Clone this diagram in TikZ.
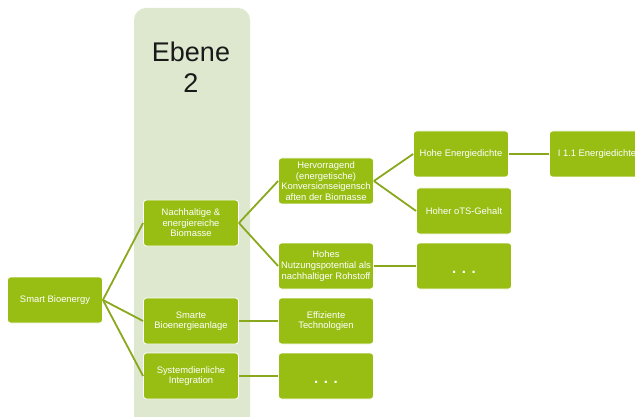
\documentclass[tikz,border=0pt]{standalone}
\usepackage{fontspec}
\setmainfont{Liberation Sans}
\usetikzlibrary{positioning}
\definecolor{boxgreen}{RGB}{152,190,20}
\definecolor{linegreen}{RGB}{138,168,28}
\definecolor{panelgreen}{RGB}{221,232,207}
\tikzstyle{box}=[rectangle,rounded corners=3pt,fill=boxgreen,draw=white,line width=0.8pt,text=white,minimum width=95pt,minimum height=46pt,inner sep=1pt,align=center,font=\fontsize{9.4}{10.6}\selectfont]
\tikzstyle{dots}=[box,font=\fontsize{15}{15}\selectfont\bfseries]
\tikzstyle{link}=[draw=linegreen,line width=1.8pt]

\begin{document}
\begin{tikzpicture}[x=1pt,y=-1pt]
  \useasboundingbox (0,0) rectangle (635,417);
  \clip (0,0) rectangle (635,417);
  % level 2 panel
  \fill[panelgreen,rounded corners=12pt] (134,8) rectangle (250,440);
  \node[inner sep=0pt,anchor=north,align=center,text=black!90,font=\fontsize{27}{31}\selectfont] (ebene) at (191,42) {Ebene\\2};

  \node[box] (sb) at (55,300) {Smart Bioenergy};

  \node[box] (nb) at (191,223) {Nachhaltige \&\\energiereiche\\Biomasse};
  \node[box] (sba) at (191,321) {Smarte\\Bioenergieanlage};
  \node[box] (si) at (191,376) {Systemdienliche\\Integration};

  \node[box] (hk) at (326,181) {Hervorragend\\(energetische)\\Konversionseigensch\\aften der Biomasse};
  \node[box] (hn) at (326,266) {Hohes\\Nutzungspotential als\\nachhaltiger Rohstoff};
  \node[box] (et) at (326,321) {Effiziente\\Technologien};
  \node[dots] (d1) at (326,376) {\vphantom{Ag}\smash{\raisebox{-4pt}{. . .}}};

  \node[box] (he) at (461,154) {Hohe Energiedichte};
  \node[box] (ots) at (464,211) {Hoher oTS-Gehalt};
  \node[dots] (d2) at (464,266) {\vphantom{Ag}\smash{\raisebox{-4pt}{. . .}}};

  \node[box] (ied) at (597,154) {I 1.1 Energiedichte};

  \draw[link] (sb.east) -- (nb.west);
  \draw[link] (sb.east) -- (sba.west);
  \draw[link] (sb.east) -- (si.west);
  \draw[link] (nb.east) -- (hk.west);
  \draw[link] (nb.east) -- (hn.west);
  \draw[link] (sba) -- (et);
  \draw[link] (si.east) -- (d1.west);
  \draw[link] (hk.east) -- (he.west);
  \draw[link] (hk.east) -- (ots.west);
  \draw[link] (hn.east) -- (d2.west);
  \draw[link] (he) -- (ied);
\end{tikzpicture}
\end{document}
